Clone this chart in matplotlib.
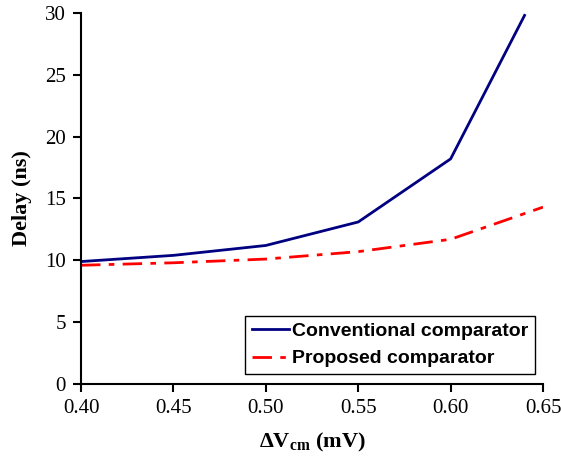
import matplotlib
matplotlib.use('Agg')
import matplotlib.pyplot as plt

plt.rcParams['mathtext.fontset'] = 'custom'
plt.rcParams['mathtext.bf'] = 'Liberation Serif:bold'
plt.rcParams['mathtext.rm'] = 'Liberation Serif:bold'
plt.rcParams['mathtext.it'] = 'Liberation Serif:bold'

# data
x_conv = [0.40, 0.45, 0.50, 0.55, 0.60, 0.64]
conventional = [9.9, 10.4, 11.2, 13.1, 18.2, 29.8]
x_prop = [0.40, 0.45, 0.50, 0.55, 0.60, 0.65]
proposed = [9.6, 9.8, 10.1, 10.7, 11.7, 14.3]

xticks = [0.40, 0.45, 0.50, 0.55, 0.60, 0.65]
yticks = [0, 5, 10, 15, 20, 25, 30]

fig = plt.figure(figsize=(5.61, 4.61), dpi=100)
ax = fig.add_axes([0.1444, 0.167, 0.8236, 0.805])

ax.plot(x_conv, conventional, color='#000080', lw=2, label='Conventional comparator')
ax.plot(x_prop, proposed, color='#ff0000', lw=2, dashes=(7, 3, 2, 3), label='Proposed comparator')

ax.set_xlim(0.40, 0.65)
ax.set_ylim(0, 30)
ax.set_xticks(xticks)
ax.set_xticklabels(['%.2f' % v for v in xticks])
ax.set_yticks(yticks)

for s in ['top', 'right']:
    ax.spines[s].set_visible(False)
for s in ['left', 'bottom']:
    ax.spines[s].set_linewidth(1.5)
ax.tick_params(direction='out', length=6, width=1.5, labelsize=15, pad=5)
for lab in ax.get_xticklabels() + ax.get_yticklabels():
    lab.set_family('Liberation Serif')

ax.set_xlabel(r'$\Delta\mathrm{V}_{\mathrm{cm}}$ (mV)', fontsize=16, fontweight='bold',
              family='Liberation Serif', labelpad=9)
ax.set_ylabel('Delay (ns)', fontsize=16, fontweight='bold', family='Liberation Serif', labelpad=9)

leg = ax.legend(loc='lower right', bbox_to_anchor=(1.003, 0.0), fancybox=False,
                edgecolor='black', framealpha=1, handlelength=1.9, handletextpad=0.15,
                borderpad=0.35, labelspacing=0.5,
                prop={'family': 'Liberation Sans', 'weight': 'bold', 'size': 14})
leg.get_frame().set_linewidth(1)

fig.savefig('out.png', dpi=100)
